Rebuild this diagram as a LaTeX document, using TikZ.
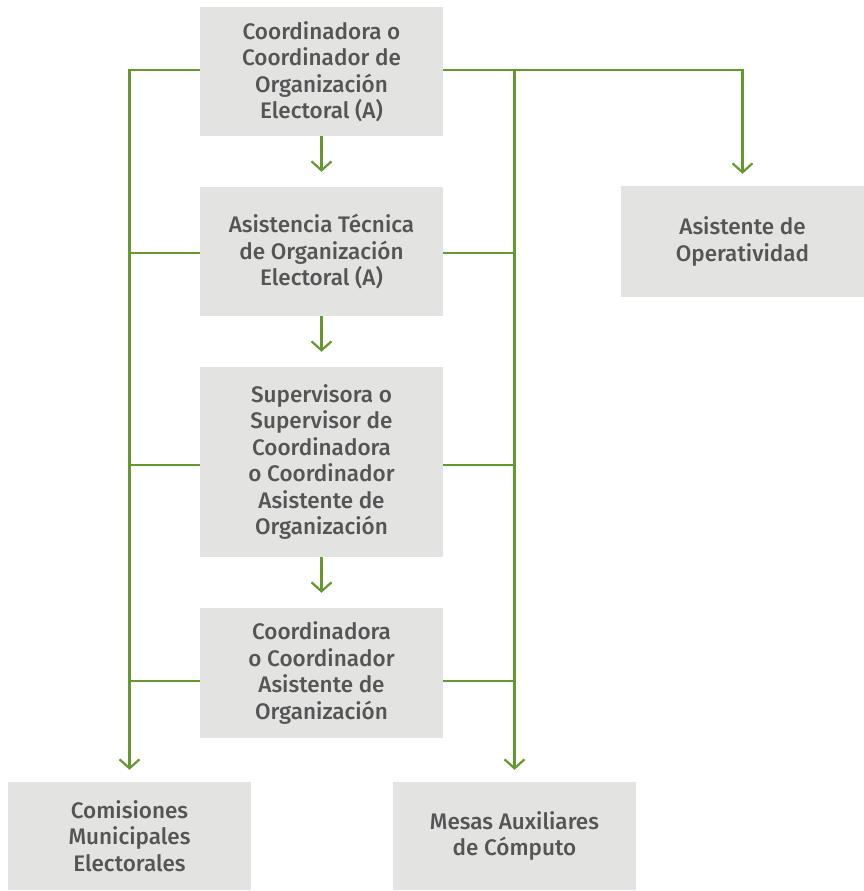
\documentclass[tikz,border=0pt]{standalone}
\usepackage{fontspec}
\setmainfont{Fira Sans}[UprightFont=* Medium]
\usetikzlibrary{arrows.meta}
\definecolor{boxgray}{HTML}{E3E3E2}
\definecolor{txtgray}{HTML}{555555}
\definecolor{lgreen}{HTML}{65982F}
\begin{document}
\begin{tikzpicture}[x=1pt,y=-1pt,
  box/.style={fill=boxgray,draw=none,minimum width=243pt,align=center,
    text=txtgray,font=\fontsize{22.5}{26.5}\selectfont,inner sep=0pt},
  conn/.style={draw=lgreen,line width=2.2pt},
  arr/.style={conn,-{Straight Barb[length=9pt,width=20pt,line width=2.2pt]},shorten >=12pt}]
\useasboundingbox (0,0) rectangle (864,891);
\node[box,minimum height=129pt] (b1) at (321.5,71.5) {Coordinadora o\\Coordinador de\\Organización\\Electoral (A)};
\node[box,minimum height=129pt] (b2) at (321.5,251.5) {Asistencia Técnica\\de Organización\\Electoral (A)};
\node[box,minimum height=190pt] (b3) at (321.5,462) {Supervisora o\\Supervisor de\\Coordinadora\\o Coordinador\\Asistente de\\Organización};
\node[box,minimum height=130pt] (b4) at (321.5,673) {Coordinadora\\o Coordinador\\Asistente de\\Organización};
\node[box,minimum height=111pt] (ao) at (742.5,241.5) {Asistente de\\Operatividad};
\node[box,minimum height=108pt] (cme) at (129.5,836) {Comisiones\\Municipales\\Electorales};
\node[box,minimum height=108pt] (mac) at (514.5,836) {Mesas Auxiliares\\de Cómputo};
% trunks
\coordinate (l1) at (129.5,70);
\coordinate (r1) at (514.5,70);
\draw[arr] (b1.west |- l1) -| (cme.north);
\draw[arr] (b1.east |- r1) -| (mac.north);
\draw[arr] (r1) -| (ao.north);
% vertical chain
\draw[arr,shorten >=15pt] (b1.south) -- (b2.north);
\draw[arr,shorten >=15pt] (b2.south) -- (b3.north);
\draw[arr,shorten >=15pt] (b3.south) -- (b4.north);
% horizontal branches
\coordinate (y2) at (0,253);
\coordinate (y3) at (0,465);
\coordinate (y4) at (0,681);
\draw[conn] (b2.west |- y2) -- (cme.north |- y2);
\draw[conn] (b2.east |- y2) -- (mac.north |- y2);
\draw[conn] (b3.west |- y3) -- (cme.north |- y3);
\draw[conn] (b3.east |- y3) -- (mac.north |- y3);
\draw[conn] (b4.west |- y4) -- (cme.north |- y4);
\draw[conn] (b4.east |- y4) -- (mac.north |- y4);
\end{tikzpicture}
\end{document}
